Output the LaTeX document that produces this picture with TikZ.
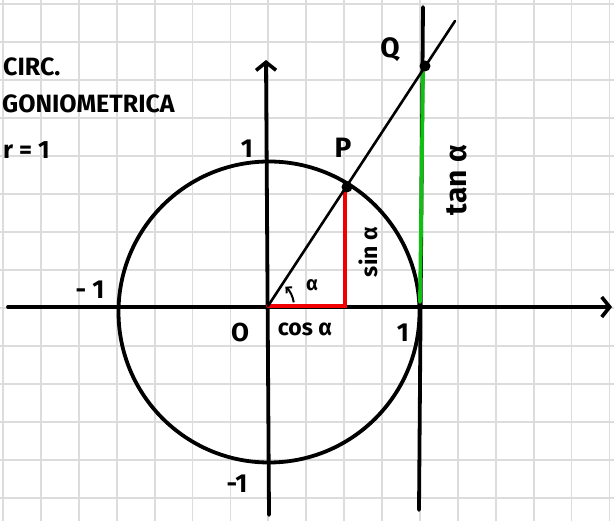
\documentclass[tikz,border=0pt]{standalone}
\usepackage{fontspec}
\setmainfont{Fira Sans}
\usetikzlibrary{arrows.meta}
\definecolor{gridgray}{HTML}{DCDCDC}
\definecolor{inkred}{HTML}{F00000}
\definecolor{inkgreen}{HTML}{10C010}
\begin{document}
\begin{tikzpicture}[x=1pt,y=-1pt,
  ink/.style={line width=3.8pt, line cap=round, line join=round, black},
  gridline/.style={line width=1.8pt, gridgray},
  tipbarb/.style={-{Straight Barb[length=8pt,width=20pt,line width=3.6pt]}},
  lbl/.style={font=\fontsize{26}{26}\selectfont\bfseries, inner sep=0pt},
  head/.style={font=\fontsize{25}{25}\selectfont\bfseries, inner sep=0pt, anchor=west},
  dot/.style={circle, fill=black, inner sep=0pt, minimum size=11pt}]
\useasboundingbox (0,0) rectangle (614,521);
\fill[white] (0,0) rectangle (614,521);
\foreach \k in {0,...,16} \draw[gridline] ({3+37.9*\k},0) -- ({3+37.9*\k},521);
\foreach \k in {0,...,13} \draw[gridline] (0,{4+38*\k}) -- (614,{4+38*\k});

% points
\coordinate (O) at (268,306);
\coordinate (XL) at (8,307);
\coordinate (XR) at (612,307);
\coordinate (YB) at (269,515);
\coordinate (YT) at (266,60);
\coordinate (T1) at (423,7);
\coordinate (T2) at (419,510);
\coordinate (E) at (455,21);
\coordinate (CX) at (345,306);
\coordinate (SY) at (345,192);
\coordinate (TB) at (420,302);
\coordinate (TT) at (423,72);

% circle
\node[circle, draw, ink, minimum size=301pt, inner sep=0pt] (C) at (269,312) {};

% axes
\draw[ink, tipbarb] (XL) -- (XR);
\draw[ink, tipbarb] (YB) -- (YT);
% tangent line
\draw[ink] (T1) -- (T2);

% red and green segments
\draw[inkred, line width=3.8pt, line cap=round] (O) -- (CX) -- (SY);
\draw[inkgreen, line width=3.8pt, line cap=round] (TB) -- (TT);

% ray
\draw[line width=2.6pt, line cap=round] (O) -- (E);

\node[dot] (P) at (347,187) {};
\node[dot] (Q) at (425,66) {};

% angle mark
\draw[line width=2pt, -{Straight Barb[length=4pt,width=8pt]}] ([shift={(-8:26)}]O) arc[start angle=-8, end angle=-48, radius=26];

% labels
\node[head] (h1) at (3,67) {CIRC.};
\node[head] (h2) at (2,104) {GONIOMETRICA};
\node[head] (h3) at (3,150) {r = 1};

\node[lbl] (l1t) at (247,149) {1};
\node[lbl] (lm1) at (90,290) {- 1};
\node[lbl] (lm1b) at (237,484) {-1};
\node[lbl] (lO) at (240,332) {O};
\node[lbl, font=\fontsize{23}{23}\selectfont\bfseries] (lcos) at (305,329) {cos α};
\node[lbl] (l1r) at (403,333) {1};
\node[lbl, font=\fontsize{28}{28}\selectfont\bfseries] (lP) at (343,148) {P};
\node[lbl, font=\fontsize{28}{28}\selectfont\bfseries] (lQ) at (390,50) {Q};
\node[lbl, font=\fontsize{23}{23}\selectfont\bfseries, rotate=90] (lsin) at (368,252) {sin α};
\node[lbl, font=\fontsize{30}{30}\selectfont\bfseries, rotate=90] (ltan) at (457,180) {tan α};
\node[lbl, font=\fontsize{20}{20}\selectfont\bfseries] (la) at (312,285) {α};
\end{tikzpicture}
\end{document}
